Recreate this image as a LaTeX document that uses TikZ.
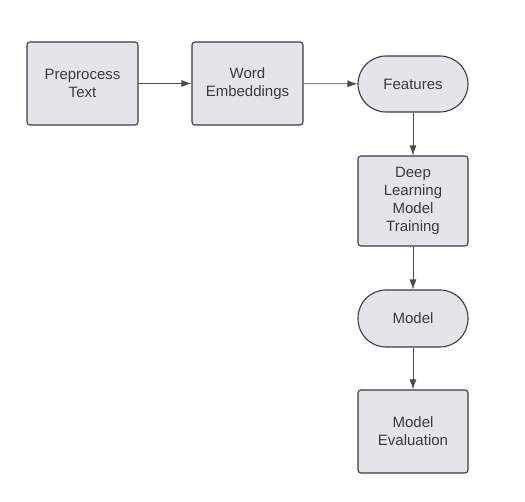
\documentclass[tikz,border=0pt]{standalone}
\usepackage{fontspec}
\setmainfont{Liberation Sans}
\usetikzlibrary{arrows.meta,positioning}
\definecolor{boxfill}{HTML}{E3E5EB}
\definecolor{boxline}{HTML}{3A3C40}
\definecolor{txt}{HTML}{3A3A3A}
\definecolor{arr}{HTML}{4A4C50}
\tikzset{
  procbox/.style={draw=boxline, fill=boxfill, line width=1.1pt, rounded corners=3pt,
    minimum width=111pt, align=center, text=txt, font=\fontsize{15}{18.2}\selectfont, inner sep=0pt},
  termbox/.style={draw=boxline, fill=boxfill, line width=1.1pt, rounded corners=28pt,
    minimum width=110pt, minimum height=56pt, align=center, text=txt, font=\fontsize{15}{18.2}\selectfont, inner sep=0pt},
  conn/.style={draw=arr, line width=0.8pt, -{Latex[length=10pt,width=7pt]}}
}
\begin{document}
\begin{tikzpicture}[x=1pt,y=-1pt]
\useasboundingbox (0,0) rectangle (525,502);
\node[procbox, minimum height=83pt] (pre) at (82.5,83.5) {Preprocess\\Text};
\node[procbox, minimum height=83pt] (emb) at (247.5,83.5) {Word\\Embeddings};
\node[termbox] (feat) at (413,84) {Features};
\node[procbox, minimum width=110pt, minimum height=90pt] (dl) at (413,201) {Deep\\Learning\\Model\\Training};
\node[termbox, minimum height=57pt] (model) at (413,318.5) {Model};
\node[procbox, minimum width=110pt, minimum height=83pt] (eval) at (413,431.5) {Model\\Evaluation};
\draw[conn] (pre) -- (emb);
\draw[conn] (emb) -- (feat);
\draw[conn] (feat) -- (dl);
\draw[conn] (dl) -- (model);
\draw[conn] (model) -- (eval);
\end{tikzpicture}
\end{document}
